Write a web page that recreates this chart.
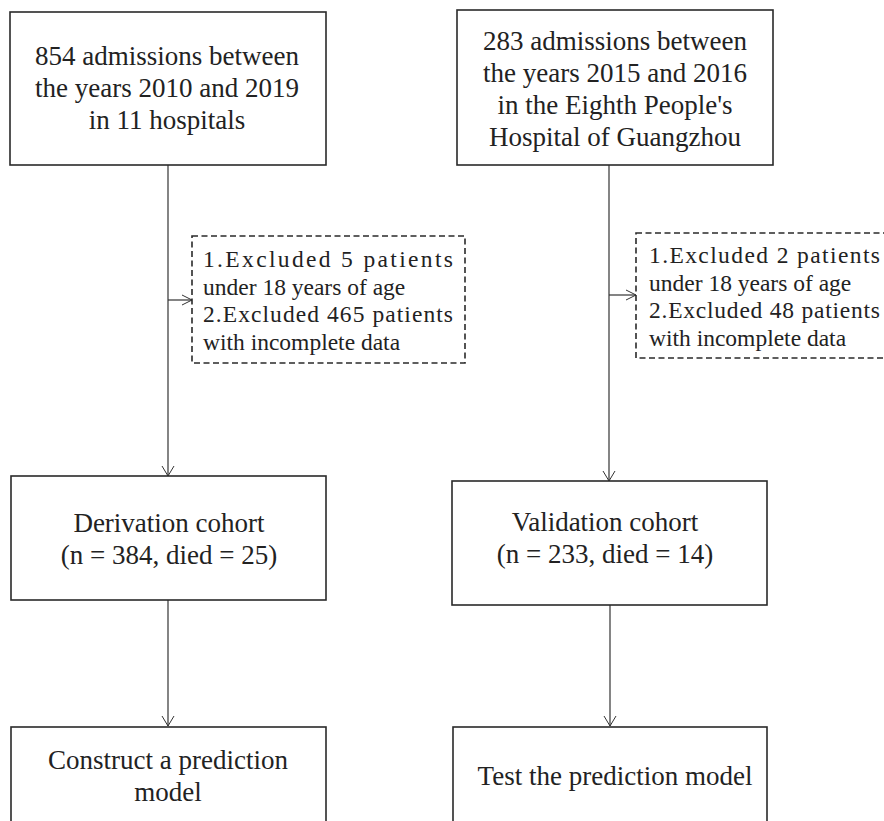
<!DOCTYPE html>
<html>
<head>
<meta charset="utf-8">
<script src="https://cdn.jsdelivr.net/npm/d3@7"></script>
<style>
  body { margin: 0; background: #fff; }
  text { font-family: "Liberation Serif", "Times New Roman", serif; fill: #222; }
</style>
</head>
<body>
<div id="chart"></div>
<script>
// values: [derivation side, validation side]
const admissions = [854, 283];
const yearsFrom = [2010, 2015];
const yearsTo = [2019, 2016];
const sourceSite = [["in 11 hospitals"], ["in the Eighth People's", "Hospital of Guangzhou"]];
const under18 = [5, 2];
const incomplete = [465, 48];
const cohortNames = ["Derivation cohort", "Validation cohort"];
const cohortN = [384, 233];
const cohortDied = [25, 14];
const finalSteps = [["Construct a prediction", "model"], ["Test the prediction model"]];

const width = 884;
const height = 821;

// layout of the two columns (pixel geometry kept separate from the data)
const layout = [
  {
    lineX: 168,
    src: { x: 10, y: 12, w: 316, h: 153, cx: 167, y0: 65 },
    exc: { x: 192, y: 236, w: 273, h: 127, tx: 203, y0: 267, fit: 250, arrowY: 300 },
    coh: { x: 11, y: 476, w: 315, h: 124, cx: 169, y0: 532 },
    fin: { x: 11, y: 727, w: 315, h: 120, cx: 168, y0: 769 },
    cohArrowTop: 476,
    finArrowTop: 726,
    lineX2: 168
  },
  {
    lineX: 609,
    src: { x: 457, y: 10, w: 316, h: 155, cx: 615, y0: 50 },
    exc: { x: 636, y: 233, w: 270, h: 125, tx: 649, y0: 263, fit: 231, arrowY: 295 },
    coh: { x: 452, y: 481, w: 315, h: 124, cx: 605, y0: 531 },
    fin: { x: 453, y: 727, w: 314, h: 120, cx: 615, y0: 785 },
    cohArrowTop: 481,
    finArrowTop: 726,
    lineX2: 610
  }
];

const mainSize = 27;
const mainLead = 32;
const excSize = 23.5;
const excLead = 27.5;
const ink = "#333";

const svg = d3
  .select("#chart")
  .append("svg")
  .attr("width", width)
  .attr("height", height);

function arrowDown(x, y) {
  svg.append("path")
    .attr("d", `M${x - 6},${y - 10} L${x},${y} L${x + 6},${y - 10}`)
    .attr("fill", "none").attr("stroke", ink).attr("stroke-width", 1);
}
function arrowRight(x, y) {
  svg.append("path")
    .attr("d", `M${x - 10},${y - 5} L${x},${y} L${x - 10},${y + 5}`)
    .attr("fill", "none").attr("stroke", ink).attr("stroke-width", 1);
}
function line(x1, y1, x2, y2) {
  svg.append("line")
    .attr("x1", x1).attr("y1", y1).attr("x2", x2).attr("y2", y2)
    .attr("stroke", ink).attr("stroke-width", 1.2);
}
function box(b, dashed) {
  svg.append("rect")
    .attr("x", b.x).attr("y", b.y).attr("width", b.w).attr("height", b.h)
    .attr("fill", "#fff")
    .attr("stroke", "#2a2a2a")
    .attr("stroke-width", 1.6)
    .attr("stroke-dasharray", dashed ? "6,3.5" : null);
}
function centredLines(lines, cx, y0) {
  svg.append("g")
    .selectAll("text")
    .data(lines)
    .enter()
    .append("text")
    .attr("x", cx)
    .attr("y", (d, i) => y0 + i * mainLead)
    .attr("text-anchor", "middle")
    .style("font-size", `${mainSize}px`)
    .text((d) => d);
}

layout.forEach((L, i) => {
  // connectors first so boxes sit on top
  line(L.lineX, L.src.y + L.src.h, L.lineX, L.cohArrowTop);
  arrowDown(L.lineX, L.cohArrowTop);
  line(L.lineX, L.exc.arrowY, L.exc.x, L.exc.arrowY);
  arrowRight(L.exc.x, L.exc.arrowY);
  line(L.lineX2, L.coh.y + L.coh.h, L.lineX2, L.finArrowTop);
  arrowDown(L.lineX2, L.finArrowTop);

  // source box
  box(L.src, false);
  centredLines(
    [
      `${admissions[i]} admissions between`,
      `the years ${yearsFrom[i]} and ${yearsTo[i]}`,
      ...sourceSite[i]
    ],
    L.src.cx,
    L.src.y0
  );

  // exclusion box (dashed)
  box(L.exc, true);
  const excLines = [
    { t: `1.Excluded ${under18[i]} patients`, fit: true },
    { t: "under 18 years of age", fit: false },
    { t: `2.Excluded ${incomplete[i]} patients`, fit: true },
    { t: "with incomplete data", fit: false }
  ];
  svg.append("g")
    .selectAll("text")
    .data(excLines)
    .enter()
    .append("text")
    .attr("x", L.exc.tx)
    .attr("y", (d, k) => L.exc.y0 + k * excLead)
    .attr("textLength", (d) => (d.fit ? L.exc.fit : null))
    .attr("lengthAdjust", (d) => (d.fit ? "spacing" : null))
    .style("font-size", `${excSize}px`)
    .text((d) => d.t);

  // cohort box
  box(L.coh, false);
  centredLines(
    [cohortNames[i], `(n = ${cohortN[i]}, died = ${cohortDied[i]})`],
    L.coh.cx,
    L.coh.y0
  );

  // final step box
  box(L.fin, false);
  centredLines(finalSteps[i], L.fin.cx, L.fin.y0);
});
</script>
</body>
</html>
